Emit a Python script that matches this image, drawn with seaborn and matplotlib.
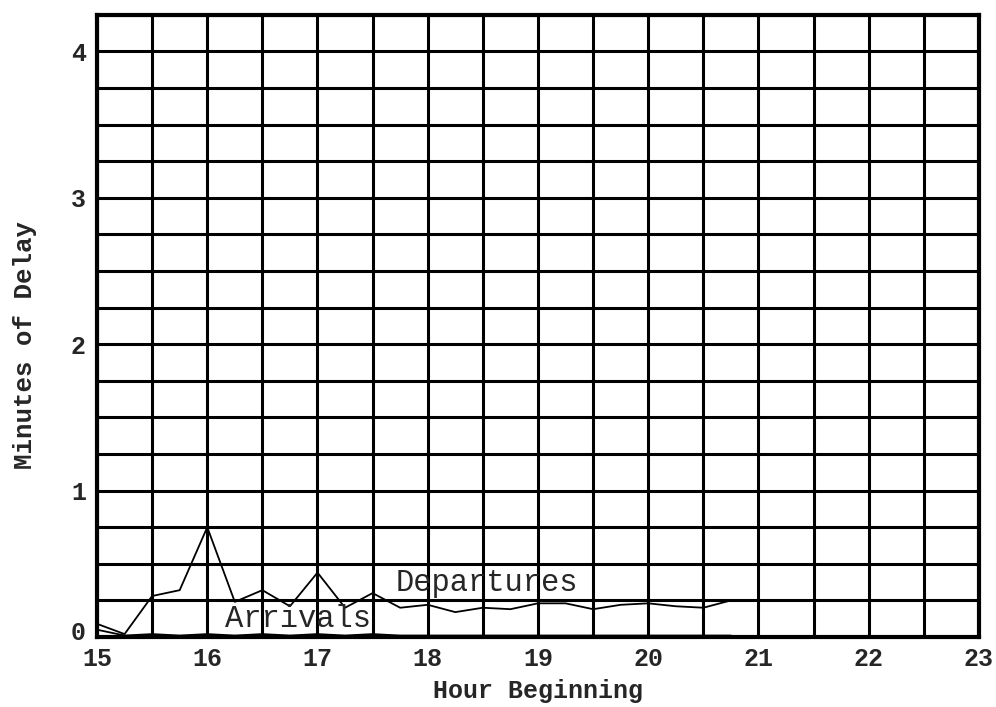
import numpy as np
import pandas as pd
import matplotlib
matplotlib.use("Agg")
import matplotlib.pyplot as plt
import matplotlib.transforms as mtransforms
import seaborn as sns
from matplotlib.ticker import MultipleLocator

# Datos (intervalos de 15 minutos)
hours = [15.0, 15.25, 15.5, 15.75, 16.0, 16.25, 16.5, 16.75, 17.0, 17.25,
         17.5, 17.75, 18.0, 18.25, 18.5, 18.75, 19.0, 19.25, 19.5, 19.75,
         20.0, 20.25, 20.5, 20.75]
departures = [0.09, 0.02, 0.28, 0.32, 0.75, 0.24, 0.32, 0.21, 0.44, 0.20,
              0.30, 0.20, 0.22, 0.17, 0.20, 0.19, 0.23, 0.23, 0.19, 0.22,
              0.23, 0.21, 0.20, 0.25]
arrivals = [0.05, 0.01, 0.02, 0.01, 0.02, 0.01, 0.02, 0.01, 0.02, 0.01,
            0.02, 0.01, 0.01, 0.01, 0.01, 0.01, 0.01, 0.01, 0.01, 0.01,
            0.01, 0.01, 0.01, 0.01]
x_ticks = [15, 16, 17, 18, 19, 20, 21, 22, 23]
y_ticks = [0, 1, 2, 3, 4]

df = pd.DataFrame({
    'hour': hours * 2,
    'delay': departures + arrivals,
    'serie': ['Departures'] * len(hours) + ['Arrivals'] * len(hours),
})

sns.set_style("white")
plt.rcParams['font.family'] = ['Liberation Mono', 'DejaVu Sans Mono']

fig = plt.figure(figsize=(9.96, 7.07), dpi=100)
ax = fig.add_axes([0.0974, 0.099, 0.8855, 0.880])

sns.lineplot(data=df, x='hour', y='delay', hue='serie',
             palette={'Departures': 'black', 'Arrivals': 'black'},
             linewidth=1.3, legend=False, ax=ax)

ax.set_xlim(15, 23)
ax.set_ylim(0, 4.25)
ax.xaxis.set_minor_locator(MultipleLocator(0.5))
ax.yaxis.set_minor_locator(MultipleLocator(0.25))
ax.set_xticks(x_ticks)
ax.set_yticks(y_ticks)
ax.grid(True, which='both', color='black', linewidth=2.2)
ax.set_axisbelow(True)
ax.tick_params(which='both', length=0, labelsize=18)
ax.tick_params(axis='y', pad=8)
ax.tick_params(axis='x', pad=7)
for lab in ax.get_xticklabels() + ax.get_yticklabels():
    lab.set_fontweight('bold')
# el "0" va un poco mas arriba, como en el original
zero_lab = ax.get_yticklabels()[0]
zero_lab.set_transform(zero_lab.get_transform() +
                       mtransforms.ScaledTranslation(0, 7 / 100, fig.dpi_scale_trans))
for s in ax.spines.values():
    s.set_color('black')
    s.set_linewidth(3)

ax.set_xlabel('Hour Beginning', fontsize=18, fontweight='bold', labelpad=6)
ax.set_ylabel('')
fig.text(25 / 996, 1 - 345 / 707, 'Minutes of Delay', rotation=90,
         fontsize=18.5, fontweight='bold', ha='center', va='center')

ax.text(17.71, 0.37, 'Departures', fontsize=22, va='center', ha='left')
ax.text(16.16, 0.12, 'Arrivals', fontsize=22, va='center', ha='left')

fig.savefig('out.png', dpi=100)
